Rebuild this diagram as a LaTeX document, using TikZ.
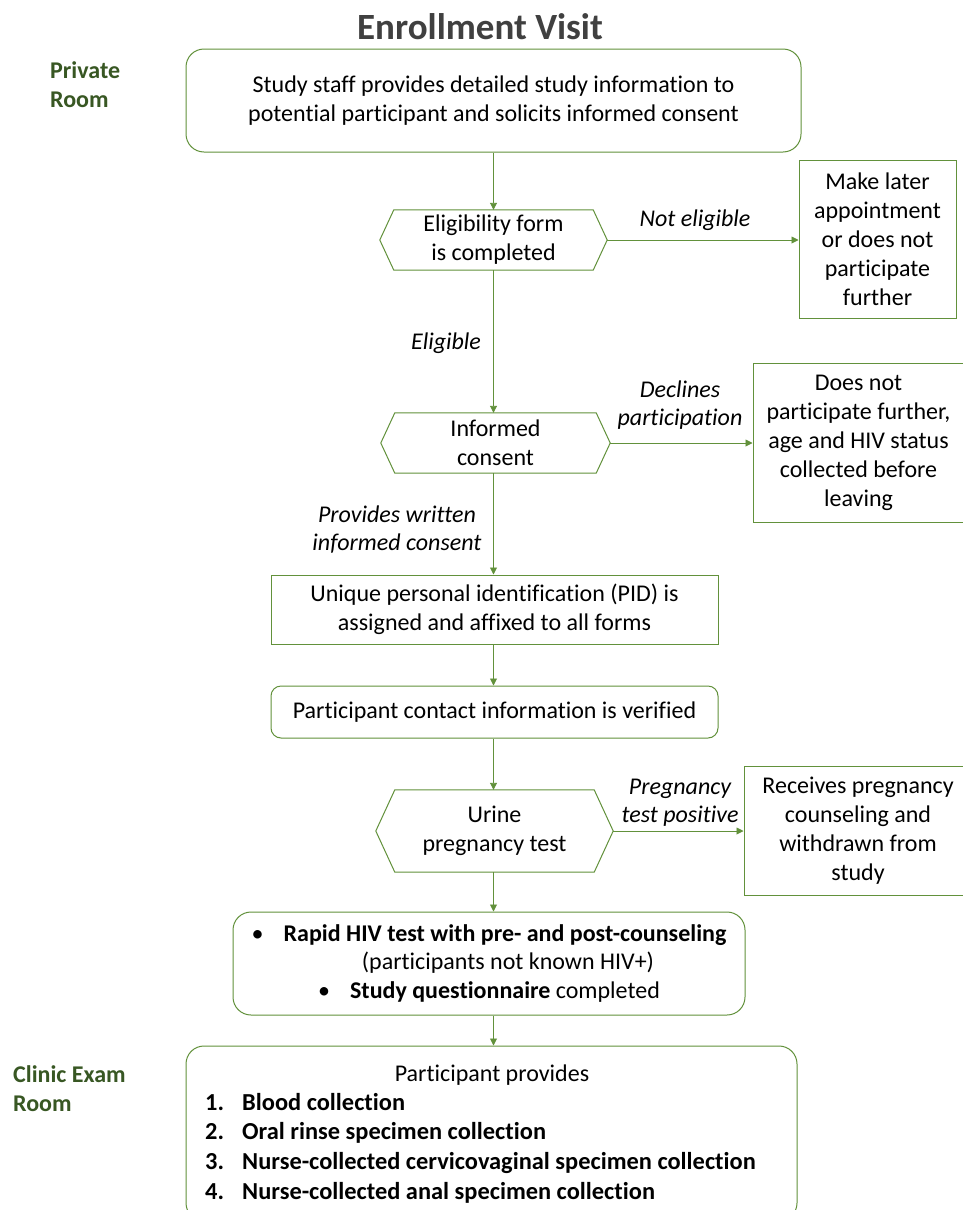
\documentclass[tikz,border=0pt]{standalone}
\usepackage{fontspec}
\setmainfont[Ligatures=NoCommon]{Carlito}
\usetikzlibrary{arrows.meta}
\definecolor{lg}{RGB}{98,145,59}
\definecolor{dg}{RGB}{56,87,35}
\definecolor{tg}{RGB}{64,64,64}
\begin{document}
\begin{tikzpicture}[x=1pt,y=-1pt,
  every node/.style={font=\fontsize{24}{29}\selectfont, inner sep=0pt},
  box/.style={draw=lg, line width=1pt, align=center},
  rbox/.style={box, rounded corners=18pt},
  hexn/.style={align=center},
  hexline/.style={draw=lg, line width=1pt, line join=miter},
  conn/.style={draw=lg, line width=0.9pt, -{Triangle[length=7pt,width=7pt]}},
  lbl/.style={font=\fontsize{24}{28}\selectfont\itshape, align=center},
  room/.style={font=\fontsize{24}{29}\selectfont\bfseries, text=dg, align=left, anchor=west}
]
\useasboundingbox (0,0) rectangle (962,1210);
\fill[white] (0,0) rectangle (962,1210);

% title and room labels
\node[font=\fontsize{37}{40}\selectfont\bfseries, text=tg] (title) at (480,27) {Enrollment Visit};
\node[room] (private) at (50,85) {Private\\Room};
\node[room] (clinic) at (13,1089) {Clinic Exam\\Room};

% boxes
\node[rbox, minimum width=615pt, minimum height=103pt] (b1) at (493.5,100.5)
  {Study staff provides detailed study information to\\potential participant and solicits informed consent};

\node[hexn, minimum width=227pt, minimum height=60pt] (h1) at (493.5,240) {Eligibility form\\is completed};
\draw[hexline] (h1.west) -- ([xshift=14pt]h1.north west) -- ([xshift=-14pt]h1.north east) -- (h1.east)
  -- ([xshift=-14pt]h1.south east) -- ([xshift=14pt]h1.south west) -- cycle;

\node[box, minimum width=157pt, minimum height=158pt] (mk) at (877.5,239)
  {Make later\\appointment\\or does not\\participate\\further};

\node[hexn, minimum width=229pt, minimum height=60pt] (h2) at (495.5,443) {Informed\\consent};
\draw[hexline] (h2.west) -- ([xshift=14pt]h2.north west) -- ([xshift=-14pt]h2.north east) -- (h2.east)
  -- ([xshift=-14pt]h2.south east) -- ([xshift=14pt]h2.south west) -- cycle;

\node[box, minimum width=211pt, minimum height=159pt] (dn) at (858.5,442.5)
  {Does not\\participate further,\\age and HIV status\\collected before\\leaving};

\node[box, minimum width=447pt, minimum height=69pt] (pid) at (494.5,609.5)
  {Unique personal identification (PID) is\\assigned and affixed to all forms};

\node[box, rounded corners=10pt, minimum width=447pt, minimum height=52pt] (ct) at (494.5,712)
  {Participant contact information is verified};

\node[hexn, minimum width=237pt, minimum height=82pt] (h3) at (494.5,831) {Urine\\pregnancy test};
\draw[hexline] (h3.west) -- ([xshift=19pt]h3.north west) -- ([xshift=-19pt]h3.north east) -- (h3.east)
  -- ([xshift=-19pt]h3.south east) -- ([xshift=19pt]h3.south west) -- cycle;

\node[box, minimum width=228pt, minimum height=129pt] (rp) at (858,830.5)
  {Receives pregnancy\\counseling and\\withdrawn from\\study};

\node[rbox, minimum width=512pt, minimum height=103pt] (hiv) at (489,963.5)
  {\textbullet\hspace{20pt}\textbf{Rapid HIV test with pre- and post-counseling}\\
   \hspace*{38pt}(participants not known HIV+)\\
   \textbullet\hspace{20pt}\textbf{Study questionnaire} completed};

\node[rbox, minimum width=611pt, minimum height=175pt] (last) at (491.5,1133.5) {};
\node (pp) at (492,1075) {Participant provides};
\node[anchor=west, align=left, font=\fontsize{24.4}{29.7}\selectfont\bfseries] (list) at (205,1148)
  {\makebox[37pt][l]{1.}Blood collection\\
   \makebox[37pt][l]{2.}Oral rinse specimen collection\\
   \makebox[37pt][l]{3.}Nurse-collected cervicovaginal specimen collection\\
   \makebox[37pt][l]{4.}Nurse-collected anal specimen collection};

% connectors
\draw[conn] (b1.south -| h1.north) -- (h1.north);
\draw[conn] (h1.east) -- (h1.east -| mk.west);
\draw[conn] (h1.south) -- (h1.south |- h2.north);
\draw[conn] (h2.east) -- (h2.east -| dn.west);
\draw[conn] (h1.south |- h2.south) -- (h1.south |- pid.north);
\draw[conn] (h1.south |- pid.south) -- (h1.south |- ct.north);
\draw[conn] (h1.south |- ct.south) -- (h1.south |- h3.north);
\draw[conn] (h3.east) -- (h3.east -| rp.west);
\draw[conn] (h1.south |- h3.south) -- (h1.south |- hiv.north);
\draw[conn] (h1.south |- hiv.south) -- (h1.south |- last.north);

% connector labels
\node[lbl] (l1) at (695,220) {Not eligible};
\node[lbl] (l2) at (446,343) {Eligible};
\node[lbl] (l3) at (680,405) {Declines\\participation};
\node[lbl] (l4) at (397,530) {Provides written\\informed consent};
\node[lbl] (l5) at (680,803) {Pregnancy\\test positive};
\end{tikzpicture}
\end{document}
